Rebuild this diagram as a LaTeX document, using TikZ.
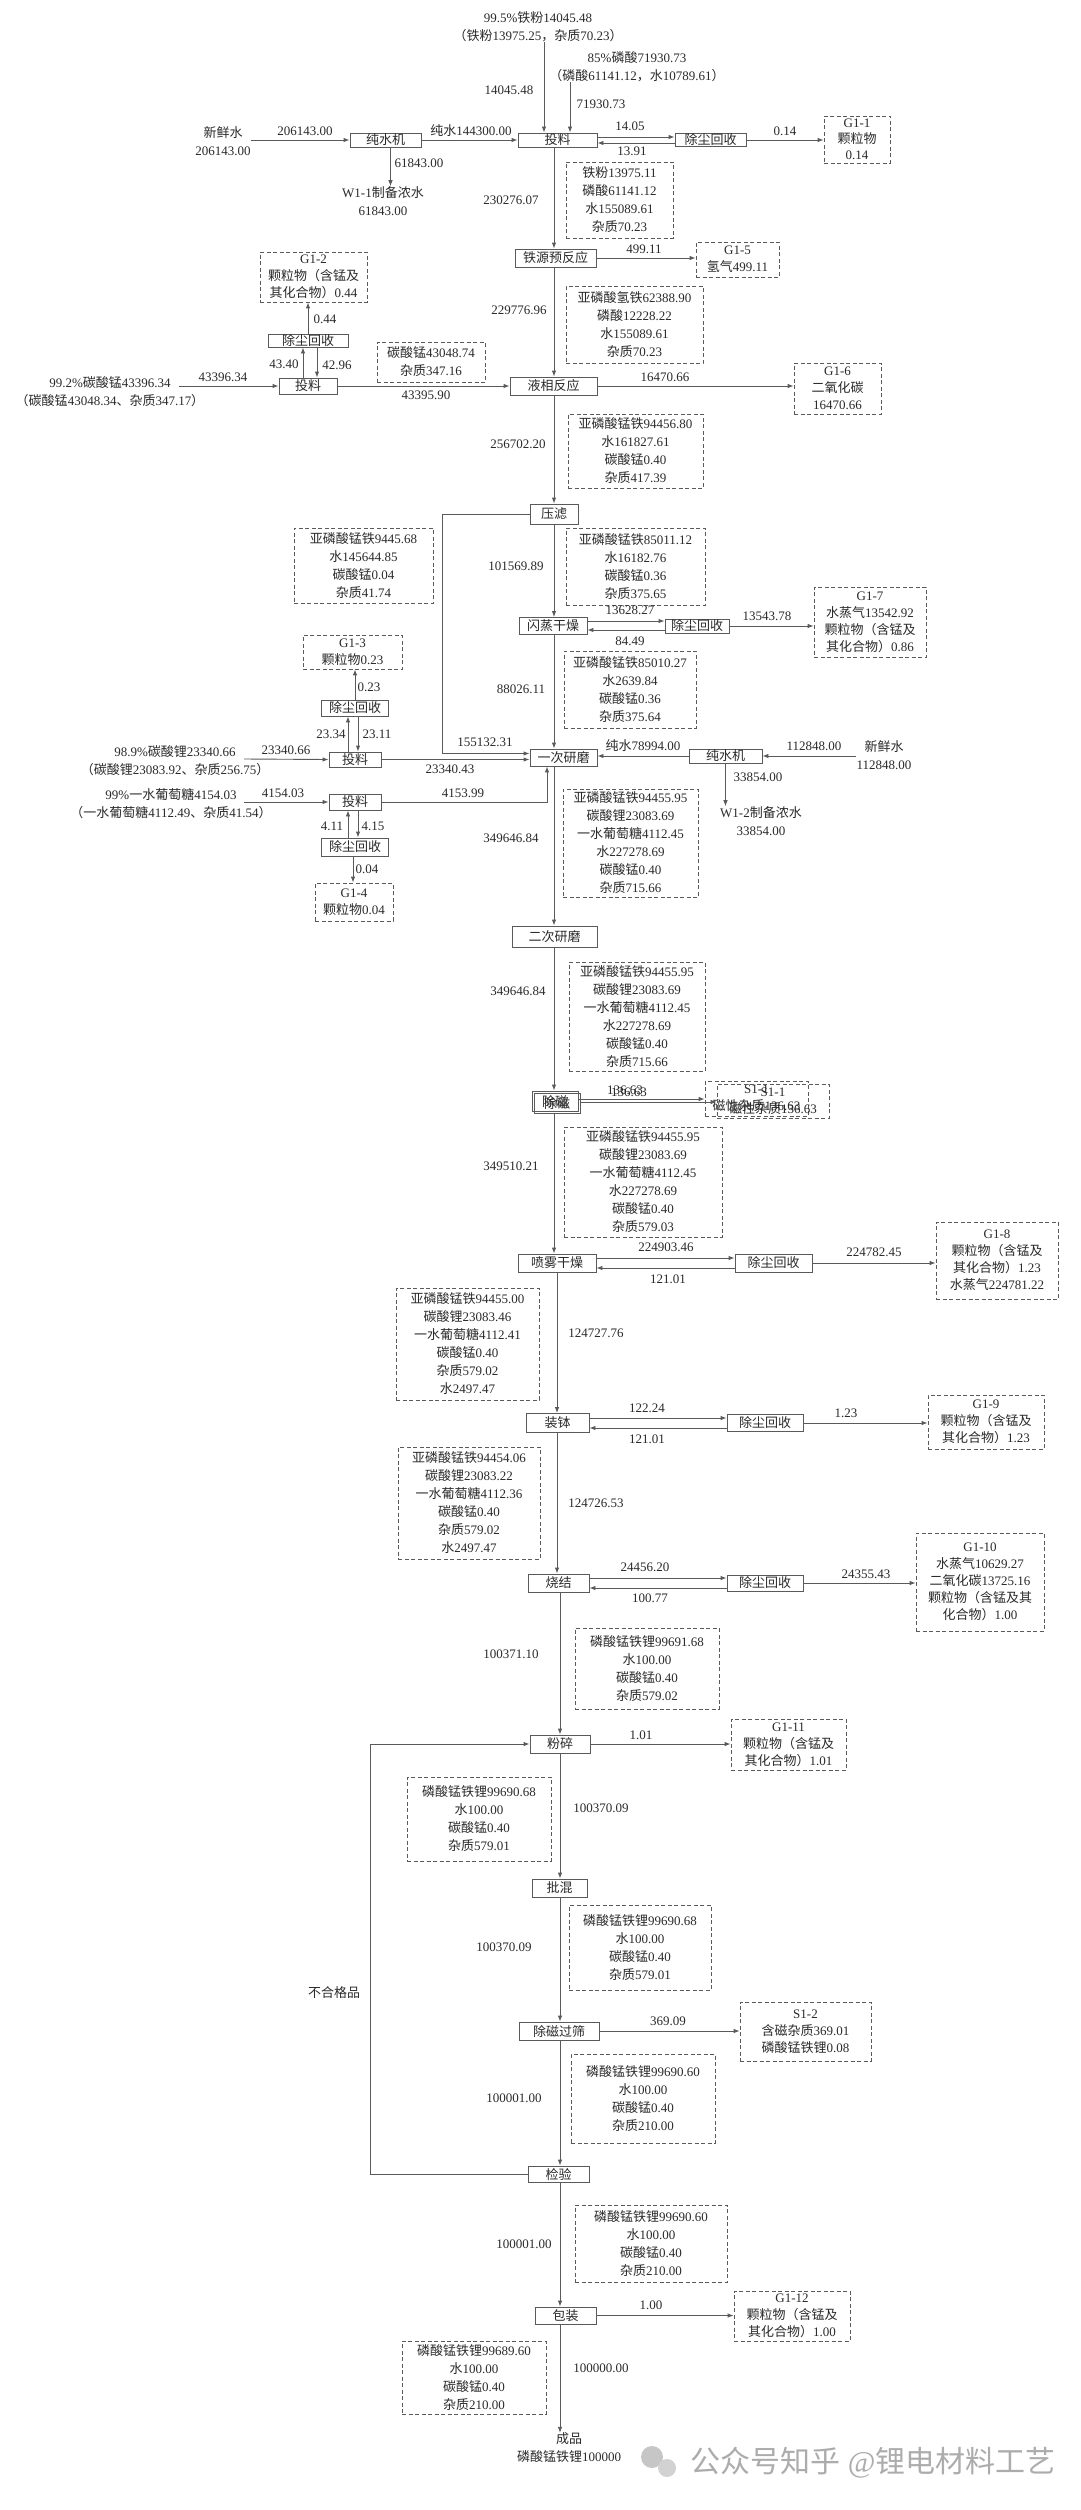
\documentclass[tikz,border=0pt]{standalone}
\usepackage{fontspec}
\setmainfont{Liberation Serif}
\newfontfamily\cjkfont{Noto Sans CJK SC}
\usetikzlibrary{arrows.meta,calc}
\XeTeXinterchartokenstate=1
\newXeTeXintercharclass\cjkclass
\makeatletter
\def\setcjkrange#1#2{\count@=#1\relax\loop\XeTeXcharclass\count@=\cjkclass\relax\ifnum\count@<#2\relax\advance\count@\@ne\repeat}
\setcjkrange{"4E00}{"9FFF}
\setcjkrange{"3000}{"303F}
\setcjkrange{"FF00}{"FFEF}
\makeatother
\XeTeXinterchartoks 0 \cjkclass = {\begingroup\cjkfont}
\XeTeXinterchartoks 4095 \cjkclass = {\begingroup\cjkfont}
\XeTeXinterchartoks \cjkclass 0 = {\endgroup}
\XeTeXinterchartoks \cjkclass 4095 = {\endgroup}
\definecolor{lc}{HTML}{5A5A5A}
\definecolor{txt}{HTML}{2A2A2A}
\tikzset{
  every node/.style={text=txt},
  pbox/.style={draw=lc, line width=0.9pt, inner sep=0pt, fill=white},
  dbox/.style={draw=lc, line width=0.8pt, dash pattern=on 4pt off 2.5pt, inner sep=0pt, align=center},
  gbox/.style={dbox, font=\fontsize{13}{17}\selectfont},
  lab/.style={inner sep=0pt},
  txtn/.style={inner sep=0pt, align=center},
  arr/.style={draw=lc, line width=0.9pt, -{Latex[length=6pt,width=4.5pt]}},
  ln/.style={draw=lc, line width=0.9pt},
}
\begin{document}
\begin{tikzpicture}[x=1pt,y=-1pt,font=\fontsize{13}{18}\selectfont]
\fill[white] (0,0) rectangle (1080,2510);
\useasboundingbox (0,0) rectangle (1080,2510);
% helper x coordinates
\coordinate (m1) at (554,0);
\coordinate (m2) at (557,0);
\coordinate (m3) at (560,0);
\coordinate (xa) at (544,0);
\coordinate (xb) at (570,0);
\coordinate (lp) at (442,0);
\coordinate (lp2) at (370,0);
\coordinate (c547) at (547,0);
\coordinate (s3) at (179,386);
\coordinate (s4) at (244,759);
\coordinate (s5) at (244,802);

% ---------- sources & plain texts ----------
\node[txtn] (src1) at (538,27) {99.5\%铁粉14045.48\\（铁粉13975.25，杂质70.23）};
\node[txtn] (src2) at (637,67) {85\%磷酸71930.73\\（磷酸61141.12，水10789.61）};
\node[txtn] (xs1) at (223,141) {新鲜水\\206143.00};
\node[txtn] (w11) at (383,201) {W1-1制备浓水\\61843.00};
\node[txtn] (src3) at (110,392) {99.2\%碳酸锰43396.34\\（碳酸锰43048.34、杂质347.17）};
\node[txtn] (src4) at (175,761) {98.9\%碳酸锂23340.66\\（碳酸锂23083.92、杂质256.75）};
\node[txtn] (src5) at (171,804) {99\%一水葡萄糖4154.03\\（一水葡萄糖4112.49、杂质41.54）};
\node[txtn] (xs2) at (884,755) {新鲜水\\112848.00};
\node[txtn] (w12) at (761,821) {W1-2制备浓水\\33854.00};
\node[txtn] (bhg) at (334,1993) {不合格品};
\node[txtn] (cp) at (569,2448) {成品\\磷酸锰铁锂100000};

% ---------- process boxes ----------
\node[pbox,minimum width=71,minimum height=14] (csj1) at (385.5,140) {纯水机};
\node[pbox,minimum width=79,minimum height=14] (tl1) at (557.5,140) {投料};
\node[pbox,minimum width=71,minimum height=13] (cc1) at (710.5,140) {除尘回收};
\node[pbox,minimum width=81,minimum height=18] (tyf) at (555.5,258) {铁源预反应};
\node[pbox,minimum width=80,minimum height=13] (cc2) at (308,340.5) {除尘回收};
\node[pbox,minimum width=58,minimum height=16] (tl2) at (308,386) {投料};
\node[pbox,minimum width=87,minimum height=18] (yx) at (553.5,386) {液相反应};
\node[pbox,minimum width=48,minimum height=20] (yl) at (554,514) {压滤};
\node[pbox,minimum width=68,minimum height=17] (sz) at (553,626) {闪蒸干燥};
\node[pbox,minimum width=64,minimum height=14] (cc3) at (697,626) {除尘回收};
\node[pbox,minimum width=67,minimum height=16] (cc4) at (355,708) {除尘回收};
\node[pbox,minimum width=52,minimum height=15] (tl3) at (355,759.5) {投料};
\node[pbox,minimum width=67,minimum height=17] (yc) at (563.5,757.5) {一次研磨};
\node[pbox,minimum width=73,minimum height=14] (csj2) at (725.5,756) {纯水机};
\node[pbox,minimum width=52,minimum height=16] (tl4) at (355,802) {投料};
\node[pbox,minimum width=67,minimum height=18] (cc5) at (355,847) {除尘回收};
\node[pbox,minimum width=85,minimum height=21] (ec) at (554.5,936.5) {二次研磨};
\node[pbox,minimum width=46,minimum height=20] (cl) at (555,1101) {除磁};
\node[pbox,minimum width=46,minimum height=20,fill=none] (cl2) at (557,1103) {除磁};
\node[pbox,minimum width=78,minimum height=18] (pw) at (557,1263) {喷雾干燥};
\node[pbox,minimum width=77,minimum height=18] (cc6) at (773.5,1263) {除尘回收};
\node[pbox,minimum width=63,minimum height=19] (zb) at (557.5,1423) {装钵};
\node[pbox,minimum width=76,minimum height=17] (cc7) at (765,1423) {除尘回收};
\node[pbox,minimum width=61,minimum height=18] (sj) at (558.5,1583) {烧结};
\node[pbox,minimum width=76,minimum height=16] (cc8) at (765,1583) {除尘回收};
\node[pbox,minimum width=60,minimum height=18] (fs) at (560,1744) {粉碎};
\node[pbox,minimum width=55,minimum height=18] (ph) at (559.5,1888) {批混};
\node[pbox,minimum width=80,minimum height=18] (cg) at (559,2031) {除磁过筛};
\node[pbox,minimum width=61,minimum height=16] (jy) at (558.5,2174) {检验};
\node[pbox,minimum width=61,minimum height=17] (bz) at (565.5,2315.5) {包装};

% ---------- dashed composition boxes ----------
\node[dbox,minimum width=107,minimum height=76] (d1) at (619.5,200) {铁粉13975.11\\磷酸61141.12\\水155089.61\\杂质70.23};
\node[dbox,minimum width=137,minimum height=77] (d2) at (634.5,324.5) {亚磷酸氢铁62388.90\\磷酸12228.22\\水155089.61\\杂质70.23};
\node[dbox,minimum width=108,minimum height=40] (d3) at (431,362) {碳酸锰43048.74\\杂质347.16};
\node[dbox,minimum width=135,minimum height=74] (d4) at (635.5,451) {亚磷酸锰铁94456.80\\水161827.61\\碳酸锰0.40\\杂质417.39};
\node[dbox,minimum width=139,minimum height=75] (d5) at (363.5,565.5) {亚磷酸锰铁9445.68\\水145644.85\\碳酸锰0.04\\杂质41.74};
\node[dbox,minimum width=139,minimum height=77] (d6) at (635.5,566.5) {亚磷酸锰铁85011.12\\水16182.76\\碳酸锰0.36\\杂质375.65};
\node[dbox,minimum width=132,minimum height=77] (d7) at (630,689.5) {亚磷酸锰铁85010.27\\水2639.84\\碳酸锰0.36\\杂质375.64};
\node[dbox,minimum width=135,minimum height=108] (d8) at (630.5,843) {亚磷酸锰铁94455.95\\碳酸锂23083.69\\一水葡萄糖4112.45\\水227278.69\\碳酸锰0.40\\杂质715.66};
\node[dbox,minimum width=136,minimum height=109] (d9) at (637,1016.5) {亚磷酸锰铁94455.95\\碳酸锂23083.69\\一水葡萄糖4112.45\\水227278.69\\碳酸锰0.40\\杂质715.66};
\node[dbox,minimum width=158,minimum height=110] (d10) at (643,1182) {亚磷酸锰铁94455.95\\碳酸锂23083.69\\一水葡萄糖4112.45\\水227278.69\\碳酸锰0.40\\杂质579.03};
\node[dbox,minimum width=143,minimum height=112] (d11) at (467.5,1344) {亚磷酸锰铁94455.00\\碳酸锂23083.46\\一水葡萄糖4112.41\\碳酸锰0.40\\杂质579.02\\水2497.47};
\node[dbox,minimum width=142,minimum height=112] (d12) at (469,1503) {亚磷酸锰铁94454.06\\碳酸锂23083.22\\一水葡萄糖4112.36\\碳酸锰0.40\\杂质579.02\\水2497.47};
\node[dbox,minimum width=144,minimum height=81] (d13) at (647,1668.5) {磷酸锰铁锂99691.68\\水100.00\\碳酸锰0.40\\杂质579.02};
\node[dbox,minimum width=144,minimum height=84] (d14) at (479,1819) {磷酸锰铁锂99690.68\\水100.00\\碳酸锰0.40\\杂质579.01};
\node[dbox,minimum width=142,minimum height=85] (d15) at (640,1947.5) {磷酸锰铁锂99690.68\\水100.00\\碳酸锰0.40\\杂质579.01};
\node[dbox,minimum width=144,minimum height=89] (d16) at (643,2098.5) {磷酸锰铁锂99690.60\\水100.00\\碳酸锰0.40\\杂质210.00};
\node[dbox,minimum width=152,minimum height=77] (d17) at (651,2243.5) {磷酸锰铁锂99690.60\\水100.00\\碳酸锰0.40\\杂质210.00};
\node[dbox,minimum width=144,minimum height=73] (d18) at (474,2377.5) {磷酸锰铁锂99689.60\\水100.00\\碳酸锰0.40\\杂质210.00};

% ---------- emission / waste boxes ----------
\node[gbox,minimum width=66,minimum height=47,font=\fontsize{13}{16}\selectfont] (g11) at (857,139.5) {G1-1\\颗粒物\\0.14};
\node[gbox,minimum width=83,minimum height=35] (g15) at (737.5,259.5) {G1-5\\氢气499.11};
\node[gbox,minimum width=107,minimum height=50] (g12) at (313.5,277) {G1-2\\颗粒物（含锰及\\其化合物）0.44};
\node[gbox,minimum width=87,minimum height=51] (g16) at (837.5,388.5) {G1-6\\二氧化碳\\16470.66};
\node[gbox,minimum width=112,minimum height=70] (g17) at (870,622) {G1-7\\水蒸气13542.92\\颗粒物（含锰及\\其化合物）0.86};
\node[gbox,minimum width=99,minimum height=34] (g13) at (352.5,652) {G1-3\\颗粒物0.23};
\node[gbox,minimum width=78,minimum height=38] (g14) at (354,902) {G1-4\\颗粒物0.04};
\node[gbox,minimum width=103,minimum height=35] (s11a) at (756.5,1098.5) {S1-1\\磁性杂质136.63};
\node[gbox,minimum width=112,minimum height=34] (s11b) at (773,1101) {S1-1\\磁性杂质136.63};
\node[gbox,minimum width=122,minimum height=77] (g18) at (997,1260.5) {G1-8\\颗粒物（含锰及\\其化合物）1.23\\水蒸气224781.22};
\node[gbox,minimum width=116,minimum height=54] (g19) at (986,1422) {G1-9\\颗粒物（含锰及\\其化合物）1.23};
\node[gbox,minimum width=128,minimum height=98] (g110) at (980,1582) {G1-10\\水蒸气10629.27\\二氧化碳13725.16\\颗粒物（含锰及其\\化合物）1.00};
\node[gbox,minimum width=115,minimum height=51] (g111) at (788.5,1744.5) {G1-11\\颗粒物（含锰及\\其化合物）1.01};
\node[gbox,minimum width=131,minimum height=59] (s12) at (805.5,2031.5) {S1-2\\含磁杂质369.01\\磷酸锰铁锂0.08};
\node[gbox,minimum width=116,minimum height=50] (g112) at (792,2316) {G1-12\\颗粒物（含锰及\\其化合物）1.00};

% ---------- connectors ----------
\draw[arr] (src1.south -| xa) -- (tl1.north -| xa);
\draw[arr] (src2.south -| xb) -- (tl1.north -| xb);
\draw[arr] (xs1.east |- csj1.west) -- (csj1.west);
\draw[arr] (csj1.east) -- (tl1.west);
\coordinate (c1d) at ([xshift=5pt]csj1.south);
\draw[arr] (c1d) -- (c1d |- w11.north);
\draw[arr] ([yshift=3pt]tl1.east) -- ([yshift=3pt]cc1.west);
\draw[arr] ([yshift=-3pt]cc1.west) -- ([yshift=-3pt]tl1.east);
\draw[arr] (cc1.east) -- (cc1.east -| g11.west);
\draw[arr] (tl1.south -| m1) -- (tyf.north -| m1);
\draw[arr] (tyf.east) -- (tyf.east -| g15.west);
\draw[arr] (tyf.south -| m1) -- (yx.north -| m1);
\draw[arr] (yx.east) -- (yx.east -| g16.west);
\draw[arr] (s3) -- (tl2.west);
\draw[arr] (tl2.east) -- (yx.west);
\draw[arr] ([xshift=-5pt]tl2.north) -- ([xshift=-5pt]cc2.south);
\draw[arr] ([xshift=9pt]cc2.south) -- ([xshift=9pt]tl2.north);
\draw[arr] (cc2.north) -- (cc2.north |- g12.south);
\draw[arr] (yx.south -| m1) -- (yl.north -| m1);
\coordinate (yin) at ([yshift=4pt]yc.west);
\draw[arr] (yl.west) -- (yl.west -| lp) -- (yin -| lp) -- (yin);
\draw[arr] (yl.south -| m1) -- (sz.north -| m1);
\draw[arr] ([yshift=5pt]sz.east) -- ([yshift=5pt]cc3.west);
\draw[arr] ([yshift=-4pt]cc3.west) -- ([yshift=-4pt]sz.east);
\draw[arr] (cc3.east) -- (cc3.east -| g17.west);
\draw[arr] (sz.south -| m1) -- (yc.north -| m1);
\draw[arr] (s4) -- (tl3.west);
\draw[arr] (tl3.east) -- (tl3.east -| yc.west);
\draw[arr] ([xshift=-7pt]tl3.north) -- ([xshift=-7pt]cc4.south);
\draw[arr] ([xshift=3pt]cc4.south) -- ([xshift=3pt]tl3.north);
\draw[arr] (cc4.north) -- (cc4.north |- g13.south);
\draw[arr] (xs2.west |- csj2.east) -- (csj2.east);
\draw[arr] (csj2.west) -- (csj2.west -| yc.east);
\draw[arr] (csj2.south) -- (csj2.south |- w12.north);
\draw[arr] (s5) -- (tl4.west);
\draw[arr] (tl4.east) -- (tl4.east -| c547) -- (yc.south -| c547);
\draw[arr] ([xshift=-7pt]cc5.north) -- ([xshift=-7pt]tl4.south);
\draw[arr] ([xshift=3pt]tl4.south) -- ([xshift=3pt]cc5.north);
\draw[arr] ([xshift=-2pt]cc5.south) -- ([xshift=-2pt]cc5.south |- g14.north);
\draw[arr] (yc.south -| m1) -- (ec.north -| m1);
\draw[arr] (ec.south -| m1) -- (cl.north -| m1);
\coordinate (cla) at ([yshift=2pt]cl.east);
\draw[arr] (cla) -- (cla -| s11a.west);
\coordinate (clb) at ([yshift=1pt]cl2.east);
\draw[arr] (clb) -- (clb -| s11b.west);
\draw[arr] (cl2.south -| m1) -- (pw.north -| m1);
\draw[arr] ([yshift=5pt]pw.east) -- ([yshift=5pt]cc6.west);
\draw[arr] ([yshift=-5pt]cc6.west) -- ([yshift=-5pt]pw.east);
\draw[arr] (cc6.east) -- (cc6.east -| g18.west);
\draw[arr] (pw.south -| m2) -- (zb.north -| m2);
\draw[arr] ([yshift=5pt]zb.east) -- ([yshift=5pt]cc7.west);
\draw[arr] ([yshift=-5pt]cc7.west) -- ([yshift=-5pt]zb.east);
\draw[arr] (cc7.east) -- (cc7.east -| g19.west);
\draw[arr] (zb.south -| m2) -- (sj.north -| m2);
\draw[arr] ([yshift=5pt]sj.east) -- ([yshift=5pt]cc8.west);
\draw[arr] ([yshift=-5pt]cc8.west) -- ([yshift=-5pt]sj.east);
\draw[arr] (cc8.east) -- (cc8.east -| g110.west);
\draw[arr] (sj.south -| m3) -- (fs.north -| m3);
\draw[arr] (fs.east) -- (fs.east -| g111.west);
\draw[arr] (fs.south -| m3) -- (ph.north -| m3);
\draw[arr] (ph.south -| m3) -- (cg.north -| m3);
\draw[arr] (cg.east) -- (cg.east -| s12.west);
\draw[arr] (cg.south -| m3) -- (jy.north -| m3);
\draw[arr] (jy.west) -- (jy.west -| lp2) -- (fs.west -| lp2) -- (fs.west);
\draw[arr] (jy.south -| m3) -- (bz.north -| m3);
\draw[arr] (bz.east) -- (bz.east -| g112.west);
\draw[arr] (bz.south -| m3) -- (cp.north -| m3);

% ---------- flow labels ----------
\node[lab] (n01) at (509,90) {14045.48};
\node[lab] (n02) at (601,104) {71930.73};
\node[lab] (n03) at (305,131) {206143.00};
\node[lab] (n04) at (471,131) {纯水144300.00};
\node[lab] (n05) at (419,163) {61843.00};
\node[lab] (n06) at (630,126) {14.05};
\node[lab] (n07) at (632,151) {13.91};
\node[lab] (n08) at (785,131) {0.14};
\node[lab] (n09) at (511,200) {230276.07};
\node[lab] (n10) at (644,249) {499.11};
\node[lab] (n11) at (519,310) {229776.96};
\node[lab] (n12) at (325,319) {0.44};
\node[lab] (n13) at (284,364) {43.40};
\node[lab] (n14) at (337,365) {42.96};
\node[lab] (n15) at (223,377) {43396.34};
\node[lab] (n16) at (426,395) {43395.90};
\node[lab] (n17) at (665,377) {16470.66};
\node[lab] (n18) at (518,444) {256702.20};
\node[lab] (n19) at (516,566) {101569.89};
\node[lab] (n20) at (630,610) {13628.27};
\node[lab] (n21) at (630,641) {84.49};
\node[lab] (n22) at (767,616) {13543.78};
\node[lab] (n23) at (369,687) {0.23};
\node[lab] (n24) at (331,734) {23.34};
\node[lab] (n25) at (377,734) {23.11};
\node[lab] (n26) at (521,689) {88026.11};
\node[lab] (n27) at (485,742) {155132.31};
\node[lab] (n28) at (286,750) {23340.66};
\node[lab] (n29) at (450,769) {23340.43};
\node[lab] (n30) at (643,746) {纯水78994.00};
\node[lab] (n31) at (814,746) {112848.00};
\node[lab] (n32) at (758,777) {33854.00};
\node[lab] (n33) at (283,793) {4154.03};
\node[lab] (n34) at (463,793) {4153.99};
\node[lab] (n35) at (332,826) {4.11};
\node[lab] (n36) at (373,826) {4.15};
\node[lab] (n37) at (511,838) {349646.84};
\node[lab] (n38) at (367,869) {0.04};
\node[lab] (n39) at (518,991) {349646.84};
\node[lab] (n40) at (625,1090) {136.63};
\node[lab] (n41) at (629,1092) {136.63};
\node[lab] (n42) at (511,1166) {349510.21};
\node[lab] (n43) at (666,1247) {224903.46};
\node[lab] (n44) at (668,1279) {121.01};
\node[lab] (n45) at (874,1252) {224782.45};
\node[lab] (n46) at (596,1333) {124727.76};
\node[lab] (n47) at (647,1408) {122.24};
\node[lab] (n48) at (647,1439) {121.01};
\node[lab] (n49) at (846,1413) {1.23};
\node[lab] (n50) at (596,1503) {124726.53};
\node[lab] (n51) at (645,1567) {24456.20};
\node[lab] (n52) at (650,1598) {100.77};
\node[lab] (n53) at (866,1574) {24355.43};
\node[lab] (n54) at (511,1654) {100371.10};
\node[lab] (n55) at (641,1735) {1.01};
\node[lab] (n56) at (601,1808) {100370.09};
\node[lab] (n57) at (504,1947) {100370.09};
\node[lab] (n58) at (668,2021) {369.09};
\node[lab] (n59) at (514,2098) {100001.00};
\node[lab] (n60) at (524,2244) {100001.00};
\node[lab] (n61) at (651,2305) {1.00};
\node[lab] (n62) at (601,2368) {100000.00};

% ---------- watermark ----------
\fill[gray!45] (652,2457) circle (11);
\fill[gray!35] (667,2468) circle (9);
\node[lab,text=gray!65,font=\fontsize{30}{32}\selectfont] (wm) at (873,2463) {公众号知乎 @锂电材料工艺};
\end{tikzpicture}
\end{document}
